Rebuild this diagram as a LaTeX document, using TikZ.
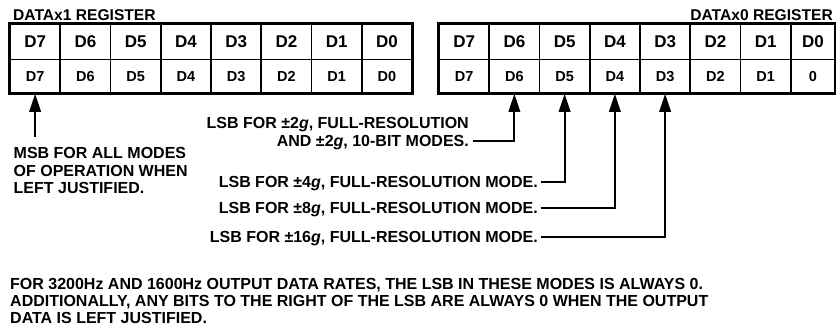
\documentclass[tikz,border=0pt]{standalone}
\usepackage{fontspec}
\setmainfont{Liberation Sans}
\usetikzlibrary{arrows.meta}
\begin{document}
\begin{tikzpicture}[x=1pt,y=-1pt,
  lbl/.style={font=\bfseries\fontsize{16}{17}\selectfont, inner sep=0pt, text height=11.5pt, text depth=0pt},
  ttl/.style={font=\bfseries\fontsize{15.6}{15.6}\selectfont, inner sep=0pt, text height=11.2pt, text depth=0pt},
  cellA/.style={draw, line width=1.6pt, minimum width=50.25pt, minimum height=35.5pt, inner sep=0pt, font=\bfseries\fontsize{17}{17}\selectfont},
  cellB/.style={draw, line width=1.6pt, minimum width=50.25pt, minimum height=33.5pt, inner sep=0pt, font=\bfseries\fontsize{14.5}{14.5}\selectfont},
  frame/.style={draw, line width=2pt},
  arr/.style={line width=2pt, -{Triangle[length=18pt,width=11.5pt]}}]
\useasboundingbox (0,0) rectangle (836,326);
% titles
\node[ttl, anchor=west] (t1) at (13,15) {DATAx1 REGISTER};
\node[ttl, anchor=east] (t0) at (833,15) {DATAx0 REGISTER};
% left register
\foreach \i in {7,...,0} {
  \pgfmathsetmacro\cx{35.125+(7-\i)*50.25}
  \node[cellA] (La\i) at (\cx,41.75) {D\i};
  \node[cellB] (Lb\i) at (\cx,76.25) {D\i};
}
\draw[frame] (La7.north west) rectangle (Lb0.south east);
% right register
\foreach \i in {7,...,1} {
  \pgfmathsetmacro\cx{464.125+(7-\i)*50.25}
  \node[cellA] (Ra\i) at (\cx,41.75) {D\i};
  \node[cellB] (Rb\i) at (\cx,76.25) {D\i};
}
\node[cellA, minimum width=44.25pt] (Ra0) at (812.875,41.75) {D0};
\node[cellB, minimum width=44.25pt] (Rb0) at (812.875,76.25) {0};
\draw[frame] (Ra7.north west) rectangle (Rb0.south east);
% MSB label
\node[lbl, anchor=west] (m1) at (13.5,153) {MSB FOR ALL MODES};
\node[lbl, anchor=west] (m2) at (13.5,170.5) {OF OPERATION WHEN};
\node[lbl, anchor=west] (m3) at (13.5,188) {LEFT JUSTIFIED.};
\coordinate (msbtail) at (35.125,137);
\draw[arr] (msbtail) -- (Lb7.south);
% LSB labels
\node[lbl, anchor=east] (a1) at (469,123) {LSB FOR ±2\textit{g}, FULL-RESOLUTION};
\node[lbl, anchor=east] (a2) at (469,141) {AND ±2\textit{g}, 10-BIT MODES.};
\node[lbl, anchor=east] (b1) at (538,181.7) {LSB FOR ±4\textit{g}, FULL-RESOLUTION MODE.};
\node[lbl, anchor=east] (c1) at (538,207.7) {LSB FOR ±8\textit{g}, FULL-RESOLUTION MODE.};
\node[lbl, anchor=east] (d1) at (538,236.7) {LSB FOR ±16\textit{g}, FULL-RESOLUTION MODE.};
\draw[arr] ([xshift=4pt]a2.east) -| (Rb6.south);
\draw[arr] ([xshift=3pt]b1.east) -| (Rb5.south);
\draw[arr] ([xshift=3pt]c1.east) -| (Rb4.south);
\draw[arr] ([xshift=3pt]d1.east) -| (Rb3.south);
% note
\node[lbl, anchor=west] (n1) at (10,284) {FOR 3200Hz AND 1600Hz OUTPUT DATA RATES, THE LSB IN THESE MODES IS ALWAYS 0.};
\node[lbl, anchor=west] (n2) at (10,301) {ADDITIONALLY, ANY BITS TO THE RIGHT OF THE LSB ARE ALWAYS 0 WHEN THE OUTPUT};
\node[lbl, anchor=west] (n3) at (10,318) {DATA IS LEFT JUSTIFIED.};
\end{tikzpicture}
\end{document}
